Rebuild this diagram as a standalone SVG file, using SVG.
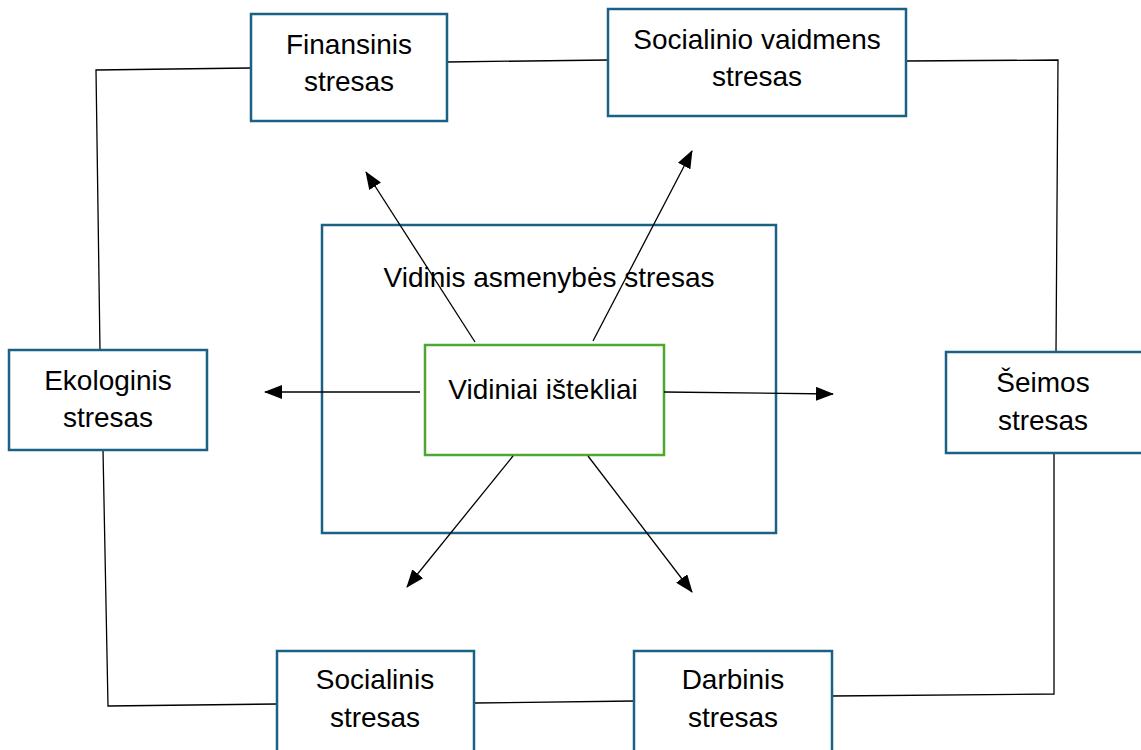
<svg xmlns="http://www.w3.org/2000/svg" width="1141" height="750" viewBox="0 0 1141 750">
<defs>
<marker id="ah" markerWidth="18" markerHeight="14" refX="17" refY="7" orient="auto" markerUnits="userSpaceOnUse" viewBox="0 0 18 14">
<path d="M0,0 L18,7 L0,14 z" fill="#000"/>
</marker>
<style>
.box{fill:#fff;stroke:#1b6185;stroke-width:2.5}
.gbox{fill:#fff;stroke:#4ea72e;stroke-width:2.5}
.t{font-family:"Liberation Sans",Arial,sans-serif;font-size:28px;fill:#000;text-anchor:middle}
.ln{stroke:#000;stroke-width:1.3;fill:none}
.ar{stroke:#000;stroke-width:1.3;fill:none;marker-end:url(#ah)}
</style>
</defs>
<rect width="1141" height="750" fill="#fff"/>
<g id="connectors">
<polyline class="ln" points="250,68 96,70 100,350"/>
<polyline class="ln" points="103,450 108,706 277,704"/>
<line class="ln" x1="474" y1="703" x2="634" y2="701"/>
<polyline class="ln" points="832,696 1054,694 1054,453"/>
<polyline class="ln" points="1056,352 1058,60 906,61"/>
<line class="ln" x1="447" y1="62" x2="608" y2="60"/>
</g>
<g id="vidinis">
<rect class="box" x="322" y="225" width="454" height="308"/>
<text class="t" x="549" y="287">Vidinis asmenybės stresas</text>
</g>
<g id="istekliai">
<rect class="gbox" x="425" y="345" width="239" height="110"/>
<text class="t" x="543" y="399">Vidiniai ištekliai</text>
</g>
<g id="arrows">
<line class="ar" x1="475" y1="342" x2="366" y2="172"/>
<line class="ar" x1="593" y1="341" x2="692" y2="151"/>
<line class="ar" x1="420" y1="392" x2="265" y2="392"/>
<line class="ar" x1="664" y1="392" x2="833" y2="394"/>
<line class="ar" x1="513" y1="456" x2="407" y2="587"/>
<line class="ar" x1="588" y1="456" x2="692" y2="592"/>
</g>
<g id="finansinis">
<rect class="box" x="251" y="14" width="196" height="107"/>
<text class="t" x="349" y="54">Finansinis</text>
<text class="t" x="349" y="91">stresas</text>
</g>
<g id="socialinio">
<rect class="box" x="608" y="9" width="298" height="107"/>
<text class="t" x="757" y="49">Socialinio vaidmens</text>
<text class="t" x="757" y="86">stresas</text>
</g>
<g id="ekologinis">
<rect class="box" x="9" y="350" width="198" height="100"/>
<text class="t" x="108" y="390">Ekologinis</text>
<text class="t" x="108" y="427">stresas</text>
</g>
<g id="seimos">
<rect class="box" x="946" y="352" width="200" height="101"/>
<text class="t" x="1043" y="392">Šeimos</text>
<text class="t" x="1043" y="430">stresas</text>
</g>
<g id="socialinis">
<rect class="box" x="277" y="651" width="197" height="110"/>
<text class="t" x="375" y="689">Socialinis</text>
<text class="t" x="375" y="727">stresas</text>
</g>
<g id="darbinis">
<rect class="box" x="634" y="651" width="198" height="110"/>
<text class="t" x="733" y="689">Darbinis</text>
<text class="t" x="733" y="727">stresas</text>
</g>
</svg>
